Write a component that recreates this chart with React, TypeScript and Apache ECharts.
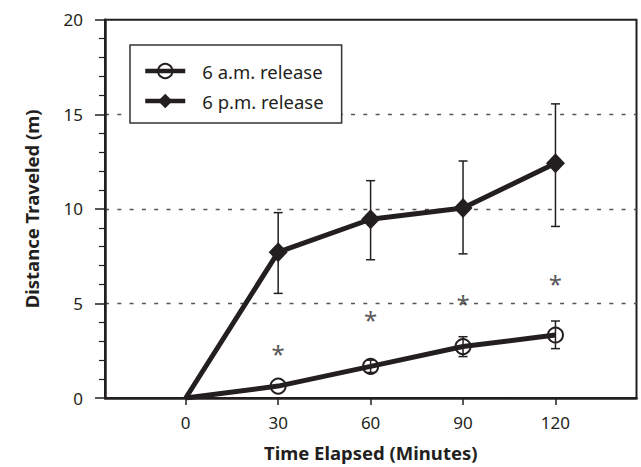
import React, { useEffect, useRef } from "react";
import * as echarts from "echarts";

const times = [0, 30, 60, 90, 120];
const amMean = [0, 0.63, 1.67, 2.72, 3.33];
const amLow = [0, 0.63, 1.35, 2.19, 2.61];
const amHigh = [0, 0.63, 2.0, 3.24, 4.07];
const pmMean = [0, 7.71, 9.45, 10.05, 12.41];
const pmLow = [0, 5.53, 7.31, 7.62, 9.07];
const pmHigh = [0, 9.8, 11.49, 12.53, 15.55];
const starTimes = [30, 60, 90, 120];
const starValues = [2.63, 4.41, 5.27, 6.32];
const xTicks = [0, 30, 60, 90, 120];
const seriesNames = ["6 a.m. release", "6 p.m. release"];

const INK = "#231f20";
const FONT = "'Noto Sans', 'Open Sans', sans-serif";

export default function App() {
  const ref = useRef<HTMLDivElement>(null);
  useEffect(() => {
    if (!ref.current) return;
    const chart = echarts.init(ref.current, undefined, { renderer: "svg" });
    const errData = (lo: number[], hi: number[]) =>
      times
        .map((t, i) => [t, lo[i], hi[i]])
        .filter((d) => d[2] - d[1] > 0.01);
    const renderErr = (params: any, api: any) => {
      const x = api.value(0);
      const top = api.coord([x, api.value(2)]);
      const bot = api.coord([x, api.value(1)]);
      const cw = 4.5;
      const style = { stroke: INK, lineWidth: 1.5 };
      return {
        type: "group",
        children: [
          { type: "line", shape: { x1: top[0], y1: top[1], x2: bot[0], y2: bot[1] }, style },
          { type: "line", shape: { x1: top[0] - cw, y1: top[1], x2: top[0] + cw, y2: top[1] }, style },
          { type: "line", shape: { x1: bot[0] - cw, y1: bot[1], x2: bot[0] + cw, y2: bot[1] }, style },
        ],
      };
    };
    const lineData = (vals: number[]) =>
      times.map((t, i) => (t === 0 ? { value: [t, vals[i]], symbol: "none" } : { value: [t, vals[i]] }));
    chart.setOption({
      animation: false,
      backgroundColor: "#ffffff",
      textStyle: { fontFamily: FONT },
      grid: {
        left: 105,
        right: 4.5,
        top: 19.7,
        bottom: 64.3,
        show: true,
        borderColor: INK,
        borderWidth: 2,
      },
      legend: {
        orient: "vertical",
        left: 130,
        top: 45,
        data: seriesNames,
        backgroundColor: "#ffffff",
        borderColor: "#333333",
        borderWidth: 1.5,
        borderRadius: 0,
        padding: [16, 18, 12, 13],
        itemWidth: 40,
        itemHeight: 18,
        itemGap: 10,
        lineStyle: { width: 4.5, color: INK },
        textStyle: { fontSize: 18.5, lineHeight: 20, color: INK, fontFamily: FONT, padding: [0, 0, 0, 12] },
      },
      xAxis: {
        type: "value",
        min: -26.2,
        max: 146.3,
        name: "Time Elapsed (Minutes)",
        nameLocation: "middle",
        nameGap: 45,
        nameTextStyle: { fontSize: 18.5, fontWeight: "bold", color: INK, fontFamily: FONT },
        axisLine: { show: true, onZero: false, lineStyle: { color: INK, width: 2.5 } },
        axisTick: { show: true, inside: false, length: 7, lineStyle: { color: INK, width: 1.5 }, customValues: xTicks },
        axisLabel: { fontSize: 17, color: INK, margin: 16, customValues: xTicks },
        splitLine: { show: false },
      },
      yAxis: {
        type: "value",
        min: 0,
        max: 20,
        interval: 5,
        name: "Distance Traveled (m)",
        nameLocation: "middle",
        nameGap: 64,
        nameTextStyle: { fontSize: 18.5, fontWeight: "bold", color: INK, fontFamily: FONT },
        axisLine: { show: true, onZero: false, lineStyle: { color: INK, width: 2.5 } },
        axisTick: { show: true, inside: false, length: 10, lineStyle: { color: INK, width: 1.5 } },
        minorTick: { show: true, splitNumber: 5, length: 6, lineStyle: { color: INK, width: 1.2 } },
        axisLabel: { fontSize: 17, color: INK, margin: 22 },
        splitLine: {
          show: true,
          showMinLine: false,
          showMaxLine: false,
          lineStyle: { color: "#555555", width: 1.3, type: [4, 8.3] },
        },
      },
      series: [
        {
          type: "custom",
          name: "am-err",
          renderItem: renderErr,
          data: errData(amLow, amHigh),
          z: 1,
          silent: true,
        },
        {
          type: "custom",
          name: "pm-err",
          renderItem: renderErr,
          data: errData(pmLow, pmHigh),
          z: 1,
          silent: true,
        },
        {
          type: "line",
          name: seriesNames[0],
          data: lineData(amMean),
          symbol: "circle",
          symbolSize: 15,
          showAllSymbol: true,
          lineStyle: { color: INK, width: 5 },
          itemStyle: { color: "rgba(255,255,255,0)", borderColor: INK, borderWidth: 2 },
          z: 3,
        },
        {
          type: "line",
          name: seriesNames[1],
          data: lineData(pmMean),
          symbol: "diamond",
          symbolSize: [19, 20],
          lineStyle: { color: INK, width: 5 },
          itemStyle: { color: INK, borderColor: INK, borderWidth: 0 },
          z: 3,
        },
        {
          type: "scatter",
          name: "sig",
          data: starTimes.map((t, i) => [t, starValues[i]]),
          symbolSize: 1,
          itemStyle: { color: "rgba(0,0,0,0)" },
          label: {
            show: true,
            position: "inside",
            formatter: "*",
            fontSize: 24,
            color: "#2b2b2b",
            fontFamily: FONT,
            offset: [0, 5],
          },
          z: 4,
          silent: true,
        },
      ],
    });
    return () => chart.dispose();
  }, []);
  return <div ref={ref} style={{ width: 641, height: 467, position: "absolute", left: 0, top: 0 }} />;
}
